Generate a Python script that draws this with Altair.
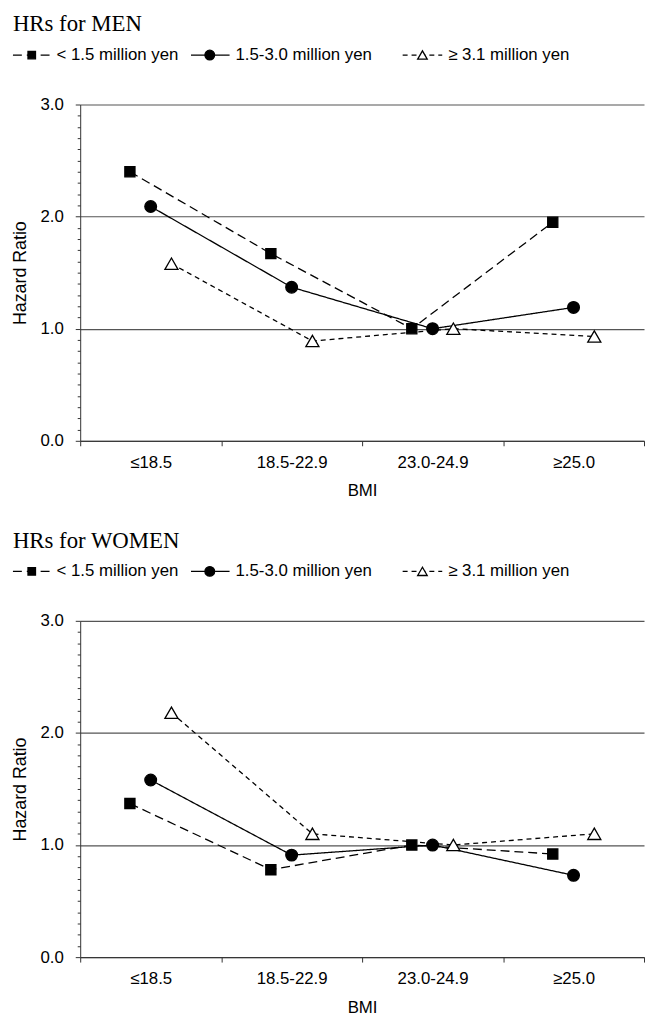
import altair as alt
import pandas as pd

bmi_groups = ["≤18.5", "18.5-22.9", "23.0-24.9", "≥25.0"]
income_groups = ["< 1.5 million yen", "1.5-3.0 million yen", "≥ 3.1 million yen"]

men_low = [2.40, 1.67, 1.00, 1.95]
men_mid = [2.09, 1.37, 1.00, 1.19]
men_high = [1.58, 0.89, 1.00, 0.93]

women_low = [1.37, 0.78, 1.00, 0.92]
women_mid = [1.58, 0.91, 1.00, 0.73]
women_high = [2.18, 1.10, 1.00, 1.10]

y_ticks = [i / 10 for i in range(31)]

W, H = 570, 340
BAND = W / len(bmi_groups)
GAP = 14  # pixel spacing between series within a BMI group
MAJ = "abs(datum.value - round(datum.value)) < 0.001"
SANS = "Liberation Sans"

dashes = [[9, 5], [1, 0], [5, 4]]
shapes = ["square", "circle", "triangle-up"]
fills = ["black", "black", "white"]
sizes = [105, 175, 170]


def panel(title, low, mid, high, title_y, legend_y):
    rows = []
    for s, vals in zip(income_groups, [low, mid, high]):
        for b, v in zip(bmi_groups, vals):
            rows.append({"bmi": b, "income": s, "hr": v})
    df = pd.DataFrame(rows)

    x = alt.X(
        "bmi:N",
        sort=bmi_groups,
        scale=alt.Scale(domain=bmi_groups, paddingInner=0, paddingOuter=0),
        axis=alt.Axis(
            title="BMI", labelAngle=0, tickBand="extent", tickSize=5,
            tickColor="#333", domainColor="#333", grid=False,
            labelFont=SANS, labelFontSize=17, labelColor="black",
            labelPadding=8.5, titleFont=SANS, titleFontSize=17,
            titleFontWeight="normal", titleColor="black", titlePadding=13,
        ),
    )
    xo = alt.XOffset(
        "income:N", sort=income_groups,
        scale=alt.Scale(
            domain=income_groups, paddingInner=0, paddingOuter=0,
            range=[BAND / 2 - 1.5 * GAP, BAND / 2 + 1.5 * GAP],
        ),
    )
    y = alt.Y(
        "hr:Q",
        scale=alt.Scale(domain=[0, 3], nice=False, zero=True),
        axis=alt.Axis(
            values=y_ticks, title="Hazard Ratio",
            labelExpr=f"{MAJ} ? format(datum.value, '.1f') : ''",
            labelOverlap=False, labelFont=SANS, labelFontSize=17,
            labelColor="black", labelPadding=12,
            tickSize={"condition": {"test": MAJ, "value": 5}, "value": 3},
            tickColor="#333", domainColor="#333",
            grid=True, gridColor="#555", gridWidth=1.2,
            gridOpacity={"condition": {"test": MAJ, "value": 1}, "value": 0},
            titleFont=SANS, titleFontSize=18,
            titleFontWeight="normal", titleColor="black", titlePadding=11,
        ),
    )

    base = alt.Chart(df).encode(x=x, xOffset=xo, y=y)
    lines = base.mark_line(color="black", strokeWidth=1.3).encode(
        strokeDash=alt.StrokeDash(
            "income:N", sort=income_groups,
            scale=alt.Scale(domain=income_groups, range=dashes), legend=None,
        )
    )
    points = base.mark_point(
        filled=True, stroke="black", strokeWidth=1.3, opacity=1, fillOpacity=1
    ).encode(
        shape=alt.Shape("income:N", scale=alt.Scale(domain=income_groups, range=shapes), legend=None),
        fill=alt.Fill("income:N", scale=alt.Scale(domain=income_groups, range=fills), legend=None),
        size=alt.Size("income:N", scale=alt.Scale(domain=income_groups, range=sizes), legend=None),
    )

    title_layer = alt.Chart(pd.DataFrame({"t": [title]})).mark_text(
        align="left", baseline="alphabetic", font="Liberation Serif",
        fontSize=23, color="black",
    ).encode(x=alt.value(-68), y=alt.value(title_y), text="t:N")

    # legend: (line start, line end, marker x, text x) relative to plot
    leg_pos = [(-68, -31, -49, -24), (112, 151, 131, 157), (326, 366, 346, 372)]
    legend_layers = []
    for i, (x0, x1, xm, xt) in enumerate(leg_pos):
        ldf = pd.DataFrame({"label": [income_groups[i]]})
        legend_layers.append(
            alt.Chart(ldf).mark_rule(color="black", strokeWidth=1.3, strokeDash=dashes[i]).encode(
                x=alt.value(x0), x2=alt.value(x1), y=alt.value(legend_y)
            )
        )
        legend_layers.append(
            alt.Chart(ldf).mark_point(
                shape=shapes[i], filled=True, fill=fills[i], stroke="black",
                strokeWidth=1.3, size=sizes[i] * 0.55, opacity=1,
            ).encode(x=alt.value(xm), y=alt.value(legend_y))
        )
        legend_layers.append(
            alt.Chart(ldf).mark_text(
                align="left", baseline="middle", font=SANS,
                fontSize=17, color="black",
            ).encode(x=alt.value(xt), y=alt.value(legend_y), text="label:N")
        )

    return alt.layer(lines, points, title_layer, *legend_layers).properties(width=W, height=H)


men = panel("HRs for MEN", men_low, men_mid, men_high, -74, -50)
women = panel("HRs for WOMEN", women_low, women_mid, women_high, -74, -50)

chart = (
    alt.vconcat(men, women, spacing=31)
    .properties(padding={"left": 3, "top": 0, "right": 0, "bottom": 0})
    .configure_view(stroke=None)
)

chart.save("out.html", embed_options={"renderer": "svg", "actions": False})
